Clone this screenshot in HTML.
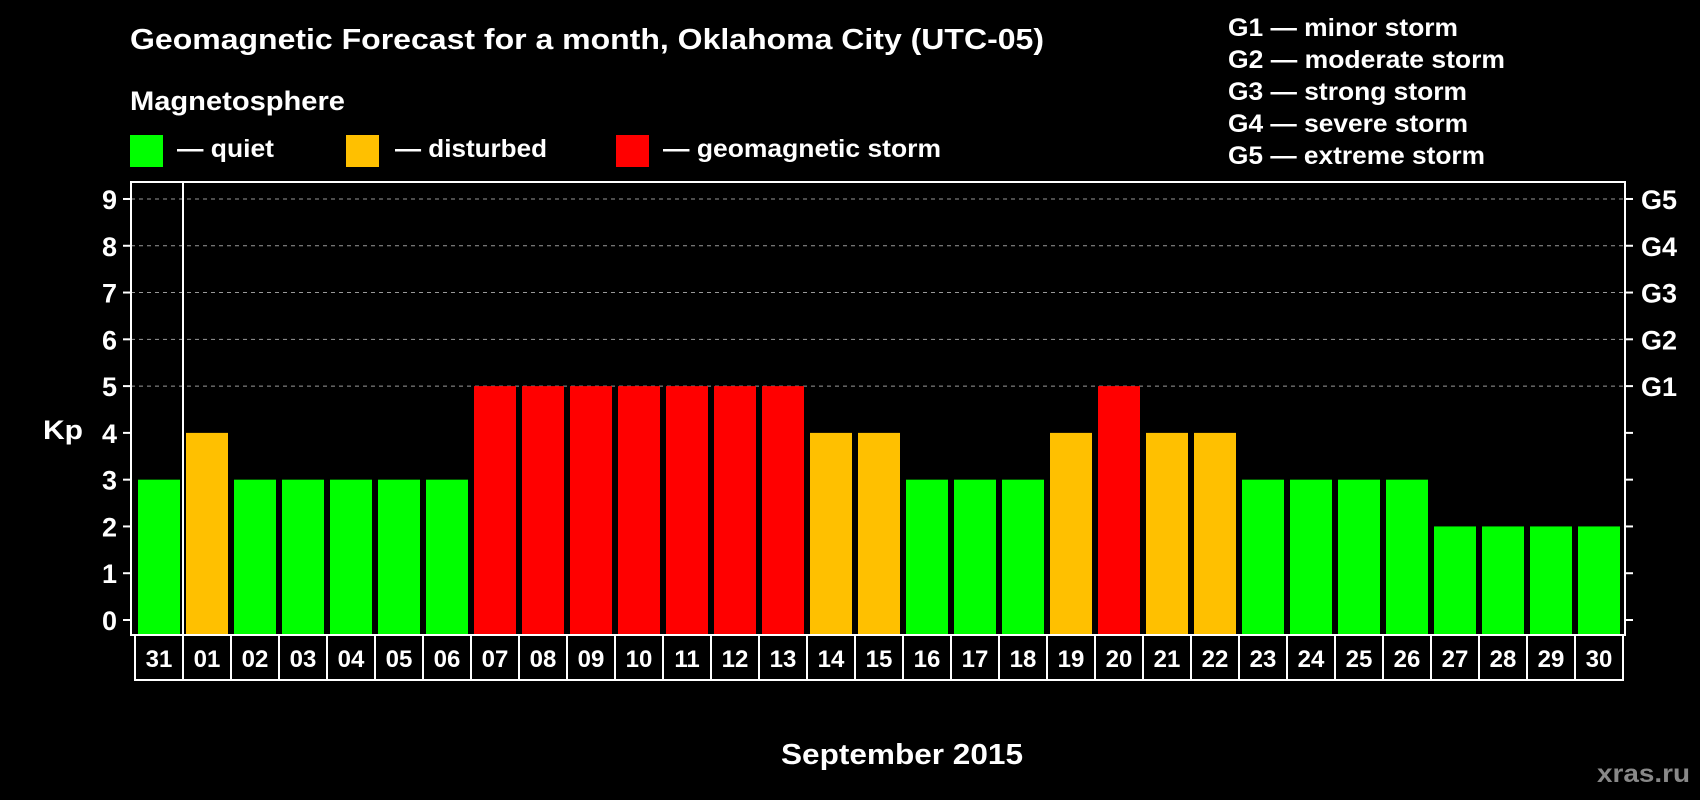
<!DOCTYPE html>
<html><head><meta charset="utf-8"><style>
html,body{margin:0;padding:0;background:#000;}
svg{display:block;font-family:"Liberation Sans",sans-serif;font-weight:bold;}
</style></head><body>
<svg id="c" width="1700" height="800" viewBox="0 0 1700 800">
<rect width="1700" height="800" fill="#000"/>
<text x="130" y="49" fill="#fff" font-size="29" textLength="914" lengthAdjust="spacingAndGlyphs">Geomagnetic Forecast for a month, Oklahoma City (UTC-05)</text>
<text x="130" y="110" fill="#fff" font-size="27" textLength="215" lengthAdjust="spacingAndGlyphs">Magnetosphere</text>
<g><rect x="130" y="135" width="33" height="32" fill="#00ff00"/><text x="177" y="157" fill="#fff" font-size="25" textLength="97" lengthAdjust="spacingAndGlyphs">— quiet</text></g>
<g><rect x="346" y="135" width="33" height="32" fill="#ffc000"/><text x="395" y="157" fill="#fff" font-size="25" textLength="152" lengthAdjust="spacingAndGlyphs">— disturbed</text></g>
<g><rect x="616" y="135" width="33" height="32" fill="#ff0000"/><text x="663" y="157" fill="#fff" font-size="25" textLength="278" lengthAdjust="spacingAndGlyphs">— geomagnetic storm</text></g>
<g fill="#fff" font-size="25">
<text x="1228" y="36" textLength="230" lengthAdjust="spacingAndGlyphs">G1 — minor storm</text>
<text x="1228" y="68" textLength="277" lengthAdjust="spacingAndGlyphs">G2 — moderate storm</text>
<text x="1228" y="100" textLength="239" lengthAdjust="spacingAndGlyphs">G3 — strong storm</text>
<text x="1228" y="132" textLength="240" lengthAdjust="spacingAndGlyphs">G4 — severe storm</text>
<text x="1228" y="164" textLength="257" lengthAdjust="spacingAndGlyphs">G5 — extreme storm</text>
</g>
<text x="43" y="439" fill="#fff" font-size="27" textLength="40" lengthAdjust="spacingAndGlyphs">Kp</text>
<text x="781" y="764" fill="#fff" font-size="29" textLength="242" lengthAdjust="spacingAndGlyphs">September 2015</text>
<text x="1597" y="782" fill="#888" font-size="25" textLength="93" lengthAdjust="spacingAndGlyphs">xras.ru</text>
<g id="plot"></g>
</svg>
<script>
const days=["31","01","02","03","04","05","06","07","08","09","10","11","12","13","14","15","16","17","18","19","20","21","22","23","24","25","26","27","28","29","30"];
const kp=[3,4,3,3,3,3,3,5,5,5,5,5,5,5,4,4,3,3,3,4,5,4,4,3,3,3,3,2,2,2,2];
const yTicks=[0,1,2,3,4,5,6,7,8,9];
const gLabels=["G1","G2","G3","G4","G5"];
const NS="http://www.w3.org/2000/svg";
const g=document.getElementById('plot');
const L=131,R=1625,T=182,B=635,Y0=620,UNIT=46.78,PITCH=48;
const y=v=>Y0-v*UNIT;
const x=i=>L+4+i*PITCH;
function mk(t,a){const e=document.createElementNS(NS,t);for(const k in a)e.setAttribute(k,a[k]);g.appendChild(e);return e;}
yTicks.forEach(v=>{
  if(v>=5){const l=mk('line',{x1:L,x2:R,y1:y(v),y2:y(v),stroke:'#999','stroke-dasharray':'4 4','stroke-width':1});
  
  }
  const t1=mk('line',{x1:L-8,x2:L,y1:y(v),y2:y(v),stroke:'#fff','stroke-width':2});
  
  
  const t2=mk('line',{x1:R,x2:R+8,y1:y(v),y2:y(v),stroke:'#fff','stroke-width':2});
  
  
  const lb=mk('text',{x:117,y:y(v)+10,fill:'#fff','font-size':27,'text-anchor':'end'});
  lb.textContent=v;
  
  
});
gLabels.forEach((s,i)=>{
  const lb=mk('text',{x:1641,y:y(5+i)+10,fill:'#fff','font-size':27});
  lb.textContent=s;
  
  
});
kp.forEach((v,i)=>{
  const col=v>=5?'#ff0000':(v>=4?'#ffc000':'#00ff00');
  const r=mk('rect',{x:x(i)+3,y:y(v),width:42,height:B-y(v),fill:col});
  
  
});
const fr=mk('rect',{x:L,y:T,width:R-L,height:B-T,fill:'none',stroke:'#fff','stroke-width':2});


const dv=mk('line',{x1:x(1),x2:x(1),y1:T,y2:B,stroke:'#fff','stroke-width':2});


days.forEach((d,i)=>{
  const bx=mk('rect',{x:x(i),y:B,width:PITCH,height:45,fill:'none',stroke:'#fff','stroke-width':2});
  
  
  const t=mk('text',{x:x(i)+PITCH/2,y:B+32,fill:'#fff','font-size':24,'text-anchor':'middle'});
  t.textContent=d;
  
  
});
</script>
</body></html>
